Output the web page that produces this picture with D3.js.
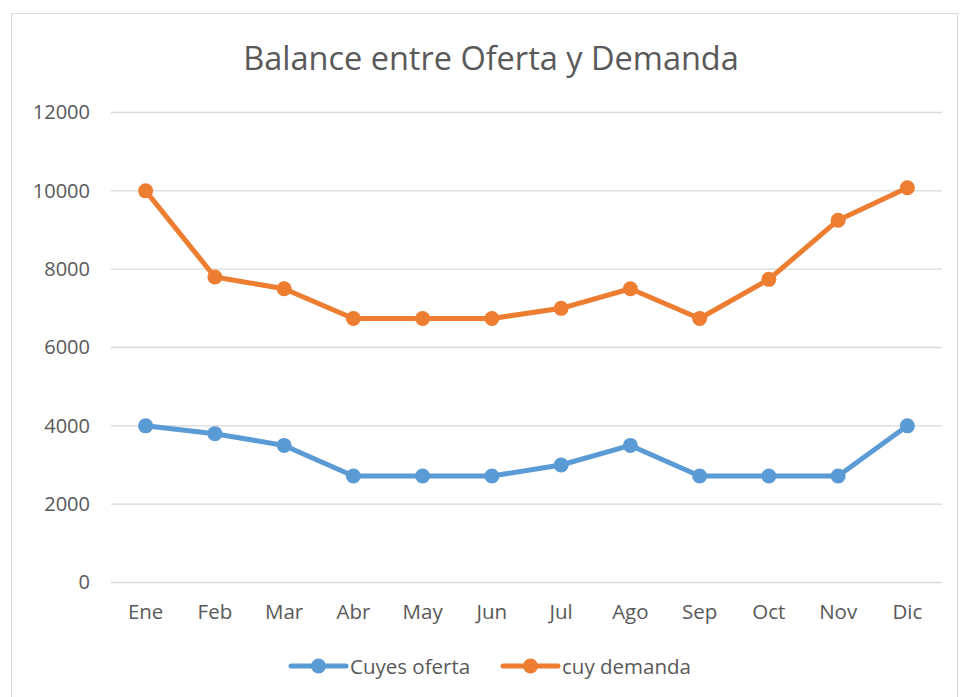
<!DOCTYPE html>
<html>
<head>
<meta charset="utf-8">
<script src="https://cdnjs.cloudflare.com/ajax/libs/d3/7.8.5/d3.min.js"></script>
<style>
  body { margin: 0; background: #fff; }
  text { font-family: "Open Sans", "Noto Sans", sans-serif; fill: #595959; }
</style>
</head>
<body>
<div id="chart"></div>
<script>
const width = 960;
const height = 697;

// data
const months = ["Ene", "Feb", "Mar", "Abr", "May", "Jun", "Jul", "Ago", "Sep", "Oct", "Nov", "Dic"];
const oferta = [4000, 3800, 3500, 2720, 2720, 2720, 3000, 3500, 2720, 2720, 2720, 4000];
const demanda = [10000, 7800, 7500, 6740, 6740, 6740, 7000, 7500, 6740, 7740, 9250, 10080];
const yTicks = [0, 2000, 4000, 6000, 8000, 10000, 12000];
const seriesNames = ["Cuyes oferta", "cuy demanda"];
const colors = ["#5B9BD5", "#ED7D31"];

const svg = d3.select("#chart").append("svg")
  .attr("width", width)
  .attr("height", height);

// outer frame
svg.append("rect")
  .attr("x", 11.5).attr("y", 13.5)
  .attr("width", 946).attr("height", 700)
  .attr("fill", "none")
  .attr("stroke", "#d9d9d9");

const plotL = 111, plotR = 942, plotT = 112.5, plotB = 582.5;

const x = d3.scaleBand().domain(months).range([plotL, plotR]);
const y = d3.scaleLinear().domain([0, 12000]).range([plotB, plotT]);

// title
svg.append("text")
  .attr("x", 491).attr("y", 70)
  .attr("text-anchor", "middle")
  .style("font-size", "32.5px")
  .text("Balance entre Oferta y Demanda");

// grid
svg.append("g").selectAll("line")
  .data(yTicks)
  .join("line")
  .attr("x1", plotL).attr("x2", plotR)
  .attr("y1", d => y(d)).attr("y2", d => y(d))
  .attr("stroke", "#d9d9d9")
  .attr("stroke-width", 1.3);

// y axis labels
const yAxis = d3.axisLeft(y).tickValues(yTicks).tickFormat(d3.format("d")).tickSize(0).tickPadding(21);
svg.append("g")
  .attr("transform", `translate(${plotL},0)`)
  .call(yAxis)
  .call(g => g.select(".domain").remove())
  .call(g => g.selectAll("text")
    .style("font-size", "20px")
    .attr("fill", "#595959")
    .style("font-family", "'Open Sans', sans-serif"));

// x axis labels
const xAxis = d3.axisBottom(x).tickSize(0).tickPadding(22);
svg.append("g")
  .attr("transform", `translate(0,${plotB})`)
  .call(xAxis)
  .call(g => g.select(".domain").remove())
  .call(g => g.selectAll("text")
    .style("font-size", "20.5px")
    .attr("fill", "#595959")
    .style("font-family", "'Open Sans', sans-serif"));

const line = d3.line()
  .x((d, i) => x(months[i]) + x.bandwidth() / 2)
  .y(d => y(d));

[oferta, demanda].forEach((vals, k) => {
  svg.append("path")
    .datum(vals)
    .attr("fill", "none")
    .attr("stroke", colors[k])
    .attr("stroke-width", 5)
    .attr("stroke-linejoin", "round")
    .attr("d", line);
  svg.append("g").selectAll("circle")
    .data(vals)
    .join("circle")
    .attr("cx", (d, i) => x(months[i]) + x.bandwidth() / 2)
    .attr("cy", d => y(d))
    .attr("r", 7.5)
    .attr("fill", colors[k]);
});

// legend
const legendX = [291, 503];
const legend = svg.append("g");
seriesNames.forEach((name, k) => {
  const g = legend.append("g").attr("transform", `translate(${legendX[k]},666)`);
  g.append("line")
    .attr("x1", 0).attr("x2", 55)
    .attr("stroke", colors[k])
    .attr("stroke-width", 5)
    .attr("stroke-linecap", "round");
  g.append("circle").attr("cx", 27.5).attr("r", 7.5).attr("fill", colors[k]);
  g.append("text")
    .attr("x", 59).attr("y", 7.5)
    .style("font-size", "20.5px")
    .text(name);
});
</script>
</body>
</html>
